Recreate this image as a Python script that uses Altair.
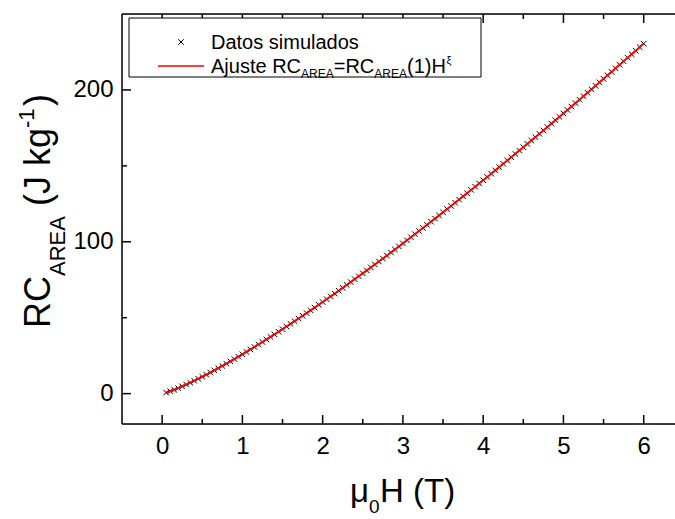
import altair as alt
import pandas as pd

FONT = "Liberation Sans"

H = [0.05, 0.10, 0.15, 0.20, 0.25, 0.30, 0.35, 0.40, 0.45, 0.50,
     0.55, 0.60, 0.65, 0.70, 0.75, 0.80, 0.85, 0.90, 0.95, 1.00,
     1.05, 1.10, 1.15, 1.20, 1.25, 1.30, 1.35, 1.40, 1.45, 1.50,
     1.55, 1.60, 1.65, 1.70, 1.75, 1.80, 1.85, 1.90, 1.95, 2.00,
     2.05, 2.10, 2.15, 2.20, 2.25, 2.30, 2.35, 2.40, 2.45, 2.50,
     2.55, 2.60, 2.65, 2.70, 2.75, 2.80, 2.85, 2.90, 2.95, 3.00,
     3.05, 3.10, 3.15, 3.20, 3.25, 3.30, 3.35, 3.40, 3.45, 3.50,
     3.55, 3.60, 3.65, 3.70, 3.75, 3.80, 3.85, 3.90, 3.95, 4.00,
     4.05, 4.10, 4.15, 4.20, 4.25, 4.30, 4.35, 4.40, 4.45, 4.50,
     4.55, 4.60, 4.65, 4.70, 4.75, 4.80, 4.85, 4.90, 4.95, 5.00,
     5.05, 5.10, 5.15, 5.20, 5.25, 5.30, 5.35, 5.40, 5.45, 5.50,
     5.55, 5.60, 5.65, 5.70, 5.75, 5.80, 5.85, 5.90, 5.95, 6.00]

RC = [0.67, 1.56, 2.56, 3.64, 4.77, 5.96, 7.20, 8.47, 9.78, 11.12,
      12.49, 13.89, 15.31, 16.76, 18.23, 19.73, 21.24, 22.77, 24.33, 25.90,
      27.49, 29.09, 30.71, 32.35, 34.00, 35.67, 37.35, 39.05, 40.75, 42.47,
      44.21, 45.95, 47.71, 49.48, 51.26, 53.06, 54.86, 56.67, 58.50, 60.33,
      62.18, 64.03, 65.90, 67.77, 69.66, 71.55, 73.45, 75.37, 77.29, 79.21,
      81.15, 83.10, 85.05, 87.01, 88.98, 90.96, 92.95, 94.94, 96.94, 98.95,
      100.96, 102.99, 105.02, 107.05, 109.10, 111.15, 113.21, 115.27, 117.34, 119.42,
      121.51, 123.60, 125.70, 127.80, 129.91, 132.02, 134.15, 136.28, 138.41, 140.55,
      142.70, 144.85, 147.01, 149.17, 151.34, 153.52, 155.70, 157.88, 160.07, 162.27,
      164.47, 166.68, 168.89, 171.11, 173.33, 175.57, 177.80, 180.04, 182.28, 184.53,
      186.78, 189.04, 191.31, 193.58, 195.85, 198.13, 200.41, 202.70, 204.99, 207.29,
      209.59, 211.89, 214.20, 216.52, 218.84, 221.16, 223.49, 225.82, 228.16, 230.50]

X_MAJOR = [0, 1, 2, 3, 4, 5, 6]
X_MINOR = [0.5, 1.5, 2.5, 3.5, 4.5, 5.5]
Y_MAJOR = [0, 100, 200]
Y_MINOR = [50, 150]

W, HT = 553, 410
OX, OY = 122, 14  # plot-area origin on the page

xs = alt.Scale(domain=[-0.5, 6.39], nice=False, zero=False)
ys = alt.Scale(domain=[-20, 250], nice=False, zero=False)

df = pd.DataFrame({"H": H, "RC": RC})
one = pd.DataFrame({"a": [0]})

xaxis = alt.Axis(values=X_MAJOR, format="d", title=None, labelFontSize=24, labelFont=FONT,
                 labelColor="black", domain=False, ticks=False, tickSize=0, grid=False,
                 labelPadding=10)
yaxis = alt.Axis(values=Y_MAJOR, format="d", title=None, labelFontSize=24, labelFont=FONT,
                 labelColor="black", domain=False, ticks=False, tickSize=0, grid=False,
                 labelPadding=9)

def X(field):
    return alt.X(field, scale=xs, axis=xaxis, title=None)

def Y(field):
    return alt.Y(field, scale=ys, axis=yaxis, title=None)

cross = "M-1,-1L1,1M-1,1L1,-1"

points = alt.Chart(df).mark_point(shape=cross, filled=False, color="black", size=30,
                                  strokeWidth=1, opacity=1).encode(
    x=X("H:Q"), y=Y("RC:Q"))
fit = alt.Chart(df).mark_line(color="red", strokeWidth=2).encode(
    x=X("H:Q"), y=Y("RC:Q"))

def xticks(vals, length, top):
    d = pd.DataFrame({"H": vals})
    if top:
        yy, yy2 = alt.value(0), alt.value(length)
    else:
        yy, yy2 = alt.value(HT), alt.value(HT - length)
    return alt.Chart(d).mark_rule(color="black", strokeWidth=1.5).encode(
        x=X("H:Q"), y=yy, y2=yy2)

def yticks(vals, length):
    d = pd.DataFrame({"RC": vals})
    return alt.Chart(d).mark_rule(color="black", strokeWidth=1.5).encode(
        y=Y("RC:Q"), x=alt.value(0), x2=alt.value(length))

frame_left = alt.Chart(one).mark_rule(color="black", strokeWidth=1.5).encode(
    x=alt.value(0), y=alt.value(0), y2=alt.value(HT))
frame_bottom = alt.Chart(one).mark_rule(color="black", strokeWidth=1.5).encode(
    x=alt.value(0), x2=alt.value(W), y=alt.value(HT))
frame_top = alt.Chart(one).mark_rule(color="black", strokeWidth=1.5).encode(
    x=alt.value(0), x2=alt.value(W), y=alt.value(0))

def txt(s, px, py, size, angle=0, baseline="alphabetic"):
    kw = dict(text=s, font=FONT, fontSize=size, color="black", align="left", baseline=baseline)
    if angle:
        kw["angle"] = angle
    return alt.Chart(one).mark_text(**kw).encode(x=alt.value(px - OX), y=alt.value(py - OY))

# legend
leg_box = alt.Chart(one).mark_rect(fill="white", stroke="black", strokeWidth=1).encode(
    x=alt.value(129 - OX), x2=alt.value(481 - OX), y=alt.value(18 - OY), y2=alt.value(77 - OY))
leg_pt = alt.Chart(one).mark_point(shape=cross, filled=False, color="black", size=30,
                                   strokeWidth=1, opacity=1).encode(
    x=alt.value(181 - OX), y=alt.value(42 - OY))
leg_line = alt.Chart(one).mark_rule(color="red", strokeWidth=1.5).encode(
    x=alt.value(158 - OX), x2=alt.value(204 - OX), y=alt.value(66 - OY))
L0 = 211
R2 = 73
leg_texts = [
    txt("Datos simulados", L0, 49, 20),
    txt("Ajuste RC", L0, R2, 20),
    txt("AREA", L0 + 90.0, R2 + 5, 12),
    txt("=RC", L0 + 122.7, R2, 20),
    txt("AREA", L0 + 163.3, R2 + 5, 12),
    txt("(1)H", L0 + 196.0, R2, 20),
    txt("\u03be", L0 + 235.5, R2 - 9, 11),
]

# x title: mu_0 H (T)
xt = [
    txt("\u03bc", 350, 502, 33),
    txt("0", 369, 513, 19),
    txt("H (T)", 380, 502, 33),
]

# y title: RC_AREA (J kg^-1), rotated
BX = 50
yt = [
    txt("RC", BX, 328, 36, angle=270),
    txt("AREA", BX + 15, 276, 22, angle=270),
    txt("(J kg", BX, 206, 36, angle=270),
    txt("-1", BX - 16, 128, 22, angle=270),
    txt(")", BX, 106, 36, angle=270),
]

chart = alt.layer(
    points, fit,
    xticks(X_MAJOR, 9, False), xticks(X_MINOR, 5, False),
    xticks(X_MAJOR, 9, True), xticks(X_MINOR, 5, True),
    yticks(Y_MAJOR, 9), yticks(Y_MINOR, 5),
    frame_left, frame_bottom, frame_top,
    leg_box, leg_pt, leg_line, *leg_texts, *xt, *yt,
).properties(
    width=W, height=HT,
    autosize=alt.AutoSizeParams(type="none"),
    padding={"left": OX, "top": OY, "right": 0, "bottom": 519 - OY - HT},
).configure_view(stroke=None).configure(background="white")

chart.save("out.html", embed_options={"renderer": "svg", "actions": False})
